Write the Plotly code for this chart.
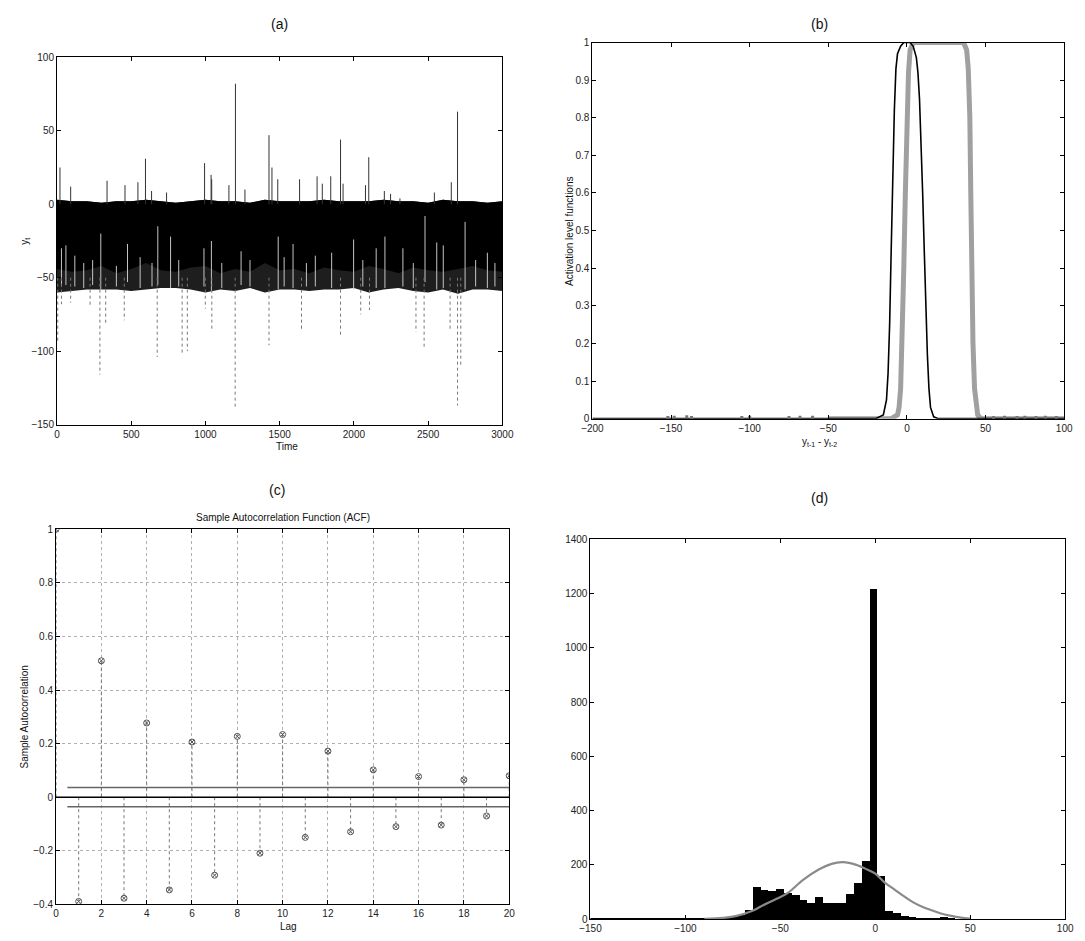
import plotly.graph_objects as go

W, H = 1085, 941

# ---------------- Panel (a): time series y_t ----------------
env_t = list(range(0, 3001, 100))
env_upper = [3, 2, 2, 1, 2, 2, 3, 2, 1, 2, 3, 2, 2, 1, 3, 2, 2, 2, 3, 2, 2, 2, 3, 2, 2, 1, 3, 2, 2, 1, 2]
env_dense = [-44, -46, -45, -42, -47, -44, -40, -45, -46, -43, -42, -47, -44, -46, -40, -45, -44, -47, -43, -45, -46, -42, -44, -47, -43, -45, -46, -44, -42, -45, -46]
env_lower = [-60, -59, -58, -58, -58, -59, -58, -57, -57, -58, -60, -58, -59, -57, -60, -58, -58, -59, -58, -58, -57, -60, -58, -57, -59, -60, -58, -61, -58, -58, -59]

up_t = [20, 92, 337, 458, 545, 596, 637, 738, 994, 1038, 1042, 1158, 1202, 1266, 1428, 1448, 1487, 1634, 1752, 1787, 1844, 1910, 1927, 2078, 2100, 2205, 2247, 2310, 2542, 2656, 2698]
up_v = [25, 12, 16, 13, 15, 31, 9, 8, 28, 20, 17, 13, 82, 10, 47, 25, 17, 17, 19, 14, 19, 44, 14, 13, 32, 9, 7, 4, 8, 15, 63]

dn_t = [5, 30, 92, 223, 289, 328, 453, 675, 843, 878, 999, 1043, 1200, 1428, 1647, 1910, 2046, 2105, 2418, 2473, 2648, 2698, 2720]
dn_v = [-95, -68, -67, -70, -116, -81, -79, -104, -101, -100, -71, -86, -139, -96, -85, -89, -75, -72, -87, -97, -86, -137, -110]

streak_t = [30, 60, 120, 180, 240, 295, 400, 475, 560, 640, 679, 765, 820, 990, 1040, 1110, 1240, 1300,
            1490, 1530, 1590, 1680, 1740, 1850, 1998, 2060, 2150, 2209, 2330, 2400, 2479, 2558, 2602,
            2749, 2820, 2899, 2950]
streak_top = [-30, -28, -35, -40, -38, -20, -42, -27, -36, -40, -15, -22, -38, -30, -25, -40, -32, -38,
              -22, -36, -27, -40, -35, -33, -24, -38, -30, -22, -30, -40, -8, -26, -28,
              -12, -38, -33, -40]
streak_bot = [-56, -55, -56, -57, -55, -58, -56, -53, -57, -56, -55, -57, -56, -56, -60, -57, -55, -56,
              -58, -56, -57, -56, -56, -57, -58, -56, -57, -57, -56, -57, -53, -58, -57,
              -58, -56, -57, -56]

# ---------------- Panel (b): activation level functions ----------------
blk_x = [-200, -20, -15, -13, -12, -11, -10, -9, -8, -7, -6, -4, -2, 2, 4, 6, 7, 8, 9, 10, 11, 12, 13, 14, 15, 17, 20, 100]
blk_y = [0, 0, 0.01, 0.05, 0.12, 0.25, 0.45, 0.65, 0.82, 0.93, 0.97, 0.99, 1.0, 1.0, 0.99, 0.96, 0.92, 0.85, 0.74, 0.6, 0.45, 0.3, 0.17, 0.08, 0.03, 0.005, 0, 0]
gry_x = [-50, -10, -6, -5, -4, -3, -2, -1, 0, 1, 2, 4, 36, 38, 39, 40, 40.6, 41.2, 42, 43, 44, 45, 47, 100]
gry_y = [0, 0, 0.01, 0.03, 0.08, 0.2, 0.4, 0.6, 0.8, 0.92, 0.98, 1.0, 1.0, 0.98, 0.93, 0.8, 0.6, 0.4, 0.2, 0.08, 0.03, 0.01, 0, 0]
scatter_x = [-152, -148, -140, -137, -105, -100, -75, -68, -60, 55, 62, 70, 75, 82, 88, 95]
scatter_y = [0.003, 0.004, 0.005, 0.003, 0.003, 0.004, 0.003, 0.004, 0.004, 0.003, 0.004, 0.003, 0.004, 0.003, 0.004, 0.003]

# ---------------- Panel (c): sample ACF ----------------
lags = list(range(0, 21))
acf = [1.0, -0.389, 0.509, -0.377, 0.277, -0.346, 0.206, -0.291, 0.227, -0.209, 0.234,
       -0.150, 0.172, -0.129, 0.102, -0.110, 0.077, -0.104, 0.065, -0.070, 0.080]
bound = 0.036
bound_x = [0.5, 20]

# ---------------- Panel (d): histogram + normal fit ----------------
bin_w = 4.1
bin_c = [-0.65 + bin_w * k for k in range(-36, 11)]
counts = [1, 1, 1, 1, 1, 1, 2, 3, 3, 3, 3, 2, 1, 1, 2, 2,
          4, 6, 10, 15, 35, 120, 106, 102, 112, 97, 88, 69, 61, 81, 61, 61, 61, 94, 132, 213,
          1217, 160, 30, 21, 11, 7, 4, 3, 3, 6, 2]
norm_x = [-90, -80, -73, -65, -60, -52, -46, -38, -30, -23, -17, -10, -4, 0, 5, 10, 15, 20, 25, 30, 35, 40, 45, 50]
norm_y = [1, 5, 12, 30, 48, 75, 97, 145, 182, 204, 210, 200, 182, 168, 135, 110, 85, 62, 45, 32, 20, 12, 6, 2]

fig = go.Figure()

# (a)
fig.add_trace(go.Scatter(x=env_t + env_t[::-1], y=env_upper + env_lower[::-1], fill="toself",
                         fillcolor="#1e1e1e", line=dict(width=0), mode="lines",
                         xaxis="x", yaxis="y", hoverinfo="skip", showlegend=False))
fig.add_trace(go.Scatter(x=env_t + env_t[::-1], y=env_upper + env_dense[::-1], fill="toself",
                         fillcolor="#000", line=dict(width=0), mode="lines",
                         xaxis="x", yaxis="y", hoverinfo="skip", showlegend=False))
sx, sy = [], []
for t, a, b in zip(streak_t, streak_top, streak_bot):
    sx += [t, t, None]
    sy += [a, b, None]
fig.add_trace(go.Scatter(x=sx, y=sy, mode="lines", line=dict(color="#c4c4c4", width=1),
                         xaxis="x", yaxis="y", hoverinfo="skip", showlegend=False))
ux, uy = [], []
for t, v in zip(up_t, up_v):
    ux += [t, t, None]
    uy += [0, v, None]
fig.add_trace(go.Scatter(x=ux, y=uy, mode="lines", line=dict(color="#333", width=1),
                         xaxis="x", yaxis="y", hoverinfo="skip", showlegend=False))
dx, dy = [], []
for t, v in zip(dn_t, dn_v):
    dx += [t, t, None]
    dy += [-50, v, None]
fig.add_trace(go.Scatter(x=dx, y=dy, mode="lines", line=dict(color="#777", width=1, dash="dot"),
                         xaxis="x", yaxis="y", hoverinfo="skip", showlegend=False))

# (b)
fig.add_trace(go.Scatter(x=gry_x, y=gry_y, mode="lines", line=dict(color="#a0a0a0", width=5),
                         xaxis="x2", yaxis="y2", hoverinfo="skip", showlegend=False))
fig.add_trace(go.Scatter(x=blk_x, y=blk_y, mode="lines", line=dict(color="#000", width=1.6),
                         xaxis="x2", yaxis="y2", hoverinfo="skip", showlegend=False))
fig.add_trace(go.Scatter(x=scatter_x, y=scatter_y, mode="markers",
                         marker=dict(color="#777", size=3, symbol="square"),
                         xaxis="x2", yaxis="y2", hoverinfo="skip", showlegend=False))

# (c)
stx, sty = [], []
for l, v in zip(lags, acf):
    stx += [l, l, None]
    sty += [0, v, None]
fig.add_trace(go.Scatter(x=stx, y=sty, mode="lines", line=dict(color="#777", width=1, dash="dot"),
                         xaxis="x3", yaxis="y3", hoverinfo="skip", showlegend=False))
fig.add_trace(go.Scatter(x=[0, 20], y=[0, 0], mode="lines", line=dict(color="#000", width=1.5),
                         xaxis="x3", yaxis="y3", hoverinfo="skip", showlegend=False))
fig.add_trace(go.Scatter(x=bound_x, y=[bound, bound], mode="lines", line=dict(color="#666", width=1.5),
                         xaxis="x3", yaxis="y3", hoverinfo="skip", showlegend=False))
fig.add_trace(go.Scatter(x=bound_x, y=[-bound, -bound], mode="lines", line=dict(color="#666", width=1.5),
                         xaxis="x3", yaxis="y3", hoverinfo="skip", showlegend=False))
fig.add_trace(go.Scatter(x=lags, y=acf, mode="markers",
                         marker=dict(color="#555", size=6, symbol="circle-x-open", line=dict(width=1)),
                         xaxis="x3", yaxis="y3", hoverinfo="skip", showlegend=False))

# (d)
fig.add_trace(go.Bar(x=bin_c, y=counts, width=bin_w, marker=dict(color="#000", line=dict(width=0)),
                     xaxis="x4", yaxis="y4", hoverinfo="skip", showlegend=False))
fig.add_trace(go.Scatter(x=norm_x, y=norm_y, mode="lines", line=dict(color="#8a8a8a", width=2.2, shape="spline"),
                         xaxis="x4", yaxis="y4", hoverinfo="skip", showlegend=False))


def px(x):
    return x / W


def py(y):
    return 1 - y / H


FONT = "Liberation Sans, Arial, sans-serif"
axis_common = dict(showline=True, linecolor="#000", linewidth=1, mirror="allticks", ticks="inside",
                   ticklen=4, tickcolor="#000", tickfont=dict(size=10, color="#222", family=FONT),
                   zeroline=False, showgrid=False)
grid_c = dict(axis_common, showgrid=True, gridcolor="#b0b0b0", griddash="dot", gridwidth=1)

fig.update_layout(
    width=W, height=H, margin=dict(l=0, r=0, t=0, b=0),
    paper_bgcolor="white", plot_bgcolor="white", bargap=0,
    font=dict(family=FONT, color="#111"),
    xaxis=dict(domain=[px(47), px(502)], range=[0, 3000], dtick=500, anchor="y", **axis_common),
    yaxis=dict(domain=[py(424), py(52)], range=[-150, 100], dtick=50, anchor="x", **axis_common),
    xaxis2=dict(domain=[px(594), px(1076)], range=[-200, 100], dtick=50, anchor="y2", **axis_common),
    yaxis2=dict(domain=[py(418), py(37)], range=[0, 1], dtick=0.1, anchor="x2", **axis_common),
    xaxis3=dict(domain=[px(46), px(509)], range=[0, 20], dtick=2, anchor="y3", **grid_c),
    yaxis3=dict(domain=[py(910), py(530)], range=[-0.4, 1], dtick=0.2, anchor="x3", **grid_c),
    xaxis4=dict(domain=[px(592), px(1077)], range=[-150, 100], dtick=50, anchor="y4", **axis_common),
    yaxis4=dict(domain=[py(925), py(540)], range=[0, 1400], dtick=200, anchor="x4", **axis_common),
)

ann = [
    dict(text="(a)", x=px(274), y=py(18), size=14),
    dict(text="(b)", x=px(826), y=py(18), size=14),
    dict(text="(c)", x=px(272), y=py(490), size=14),
    dict(text="(d)", x=px(826), y=py(498), size=14),
    dict(text="Time", x=px(282), y=py(446), size=10),
    dict(text="y<sub>t-1</sub> - y<sub>t-2</sub>", x=px(826), y=py(442), size=10),
    dict(text="Sample Autocorrelation Function (ACF)", x=px(278), y=py(518), size=10),
    dict(text="Lag", x=px(283), y=py(932), size=10),
]
annotations = []
for a in ann:
    annotations.append(dict(text=a["text"], x=a["x"], y=a["y"], xref="paper", yref="paper",
                            showarrow=False, xanchor="center", yanchor="middle",
                            font=dict(size=a["size"], color="#111", family=FONT)))
rot = [
    dict(text="y<sub>t</sub>", x=px(14), y=py(238)),
    dict(text="Activation level functions", x=px(570), y=py(228)),
    dict(text="Sample Autocorrelation", x=px(14), y=py(720)),
]
for a in rot:
    annotations.append(dict(text=a["text"], x=a["x"], y=a["y"], xref="paper", yref="paper",
                            showarrow=False, textangle=-90, xanchor="center", yanchor="middle",
                            font=dict(size=10, color="#111", family=FONT)))
fig.update_layout(annotations=annotations)

fig.write_html("out.html")
